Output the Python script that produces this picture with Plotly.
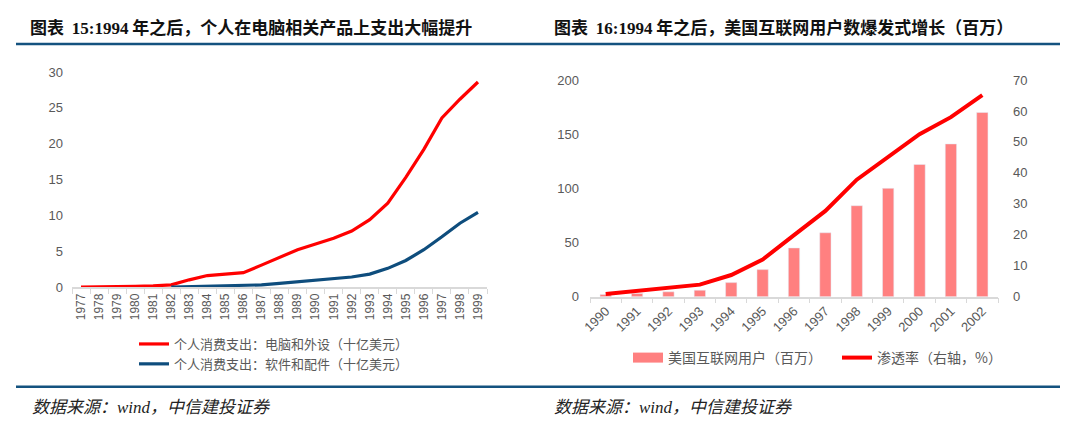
import plotly.graph_objects as go

# left chart: personal consumption spending (billion USD)
years_pc = [str(y) for y in range(1977, 2000)]
pc_hardware = [0, 0, 0, 0.1, 0.15, 0.3, 1.0, 1.6, 1.8, 2.0, 3.05, 4.1, 5.2, 6.0, 6.8,
               7.8, 9.4, 11.7, 15.3, 19.2, 23.6, 26.2, 28.6]
pc_software = [None, None, None, None, None, 0, 0.05, 0.1, 0.1, 0.2, 0.3, 0.5, 0.7,
               0.9, 1.1, 1.4, 1.8, 2.6, 3.7, 5.2, 7.0, 8.9, 10.4]

# right chart: US internet users (million) and penetration (%)
years_net = [str(y) for y in range(1990, 2003)]
net_users = [2, 3, 4.5, 6, 13, 25, 45, 59, 84, 100, 122, 141, 170]
net_rate = [0.9, 1.8, 2.9, 3.9, 7.0, 12.0, 19.9, 27.7, 37.8, 45.2, 52.5, 58.0, 65.1]

W, H = 1080, 427
GRAY = "#595959"
AXIS = "#D9D9D9"
RULE = "#14527F"
CJK = "Noto Sans CJK SC"
BAR = "#FF8080"


def px(x):
    return x / W


def py(y):
    return 1 - y / H


fig = go.Figure()

fig.add_trace(go.Scatter(x=years_pc, y=pc_hardware, mode="lines", name="个人消费支出：电脑和外设（十亿美元）",
                         line=dict(color="#FF0000", width=3.2), xaxis="x", yaxis="y", legend="legend"))
fig.add_trace(go.Scatter(x=years_pc, y=pc_software, mode="lines", name="个人消费支出：软件和配件（十亿美元）",
                         line=dict(color="#0E4D7D", width=3.2), xaxis="x", yaxis="y", legend="legend"))

fig.add_trace(go.Bar(x=years_net, y=net_users, name="美国互联网用户（百万）", marker_color=BAR,
                     width=0.36, xaxis="x2", yaxis="y2", showlegend=False))
# wide legend swatch for the bars
fig.add_trace(go.Scatter(x=[None], y=[None], mode="lines", name="美国互联网用户（百万）",
                         line=dict(color=BAR, width=10), xaxis="x2", yaxis="y2", legend="legend2"))
fig.add_trace(go.Scatter(x=years_net, y=net_rate, mode="lines", name="渗透率（右轴，%）",
                         line=dict(color="#FF0000", width=4), xaxis="x2", yaxis="y3", legend="legend2"))

tickfont = dict(family="Liberation Sans, Arial", size=13, color=GRAY)

fig.update_layout(
    width=W, height=H,
    margin=dict(l=0, r=0, t=0, b=0, autoexpand=False),
    paper_bgcolor="white", plot_bgcolor="white",
    font=dict(family=CJK, color=GRAY),
    xaxis=dict(domain=[px(72), px(487)], type="category", range=[-0.5, 22.5],
               tickangle=-90, showline=True, linecolor=AXIS, linewidth=1.5,
               ticks="outside", tickcolor=AXIS, ticklen=5, tickson="boundaries",
               tickfont=dict(family="Liberation Sans, Arial", size=12, color=GRAY),
               showgrid=False, zeroline=False, anchor="y", automargin=False),
    yaxis=dict(domain=[py(287), py(72)], range=[0, 30], dtick=5, showgrid=False,
               zeroline=False, showline=False, tickfont=tickfont, ticklabelstandoff=8,
               anchor="x", automargin=False),
    xaxis2=dict(domain=[px(590), px(998)], type="category", range=[-0.5, 12.5],
                tickangle=-45, showline=True, linecolor=AXIS, linewidth=1.5,
                ticks="outside", tickcolor=AXIS, ticklen=5, tickson="boundaries",
                tickfont=tickfont, showgrid=False, zeroline=False, anchor="y2",
                automargin=False),
    yaxis2=dict(domain=[py(296.7), py(80)], range=[0, 200], dtick=50, showgrid=False,
                zeroline=False, showline=False, tickfont=tickfont, ticklabelstandoff=10,
                anchor="x2", automargin=False),
    yaxis3=dict(range=[0, 70], dtick=10, overlaying="y2", side="right", anchor="x2",
                showgrid=False, zeroline=False, showline=False, tickfont=tickfont,
                ticklabelstandoff=14, automargin=False),
    legend=dict(x=px(134), y=py(329), xanchor="left", yanchor="top", orientation="v",
                font=dict(family=CJK, size=13, color=GRAY), bgcolor="rgba(0,0,0,0)",
                tracegroupgap=0, itemwidth=30),
    legend2=dict(x=px(628), y=py(342), xanchor="left", yanchor="top", orientation="h",
                 font=dict(family=CJK, size=14, color=GRAY), bgcolor="rgba(0,0,0,0)",
                 itemwidth=30, entrywidth=164, entrywidthmode="pixels"),
    bargap=0.6,
)

serif = "font-family:Liberation Serif, Times New Roman"
titles = [
    (28, "<b>图表  <span style='%s'>15:1994</span> 年之后，个人在电脑相关产品上支出大幅提升</b>" % serif),
    (552, "<b>图表  <span style='%s'>16:1994</span> 年之后，美国互联网用户数爆发式增长（百万）</b>" % serif),
]
for x0, text in titles:
    fig.add_annotation(x=px(x0), y=py(27), xref="paper", yref="paper", xanchor="left",
                       yanchor="middle", text=text, showarrow=False,
                       font=dict(family=CJK, size=17, color="#111111"))

for x0 in (30, 552):
    fig.add_annotation(x=px(x0), y=py(405), xref="paper", yref="paper", xanchor="left",
                       yanchor="middle",
                       text="<i>数据来源：<span style='%s'>wind</span>，中信建投证券</i>" % serif,
                       showarrow=False, font=dict(family=CJK, size=17, color="#222222"))

for y0 in (44, 386.7):
    fig.add_shape(type="line", xref="paper", yref="paper", x0=px(16), x1=px(1060),
                  y0=py(y0), y1=py(y0), line=dict(color=RULE, width=2.6))

# page body has a default margin; drop it so the figure sits at the window corner
fig.write_html("out.html", config={"displayModeBar": False},
               post_script="document.body.style.margin='0';")
